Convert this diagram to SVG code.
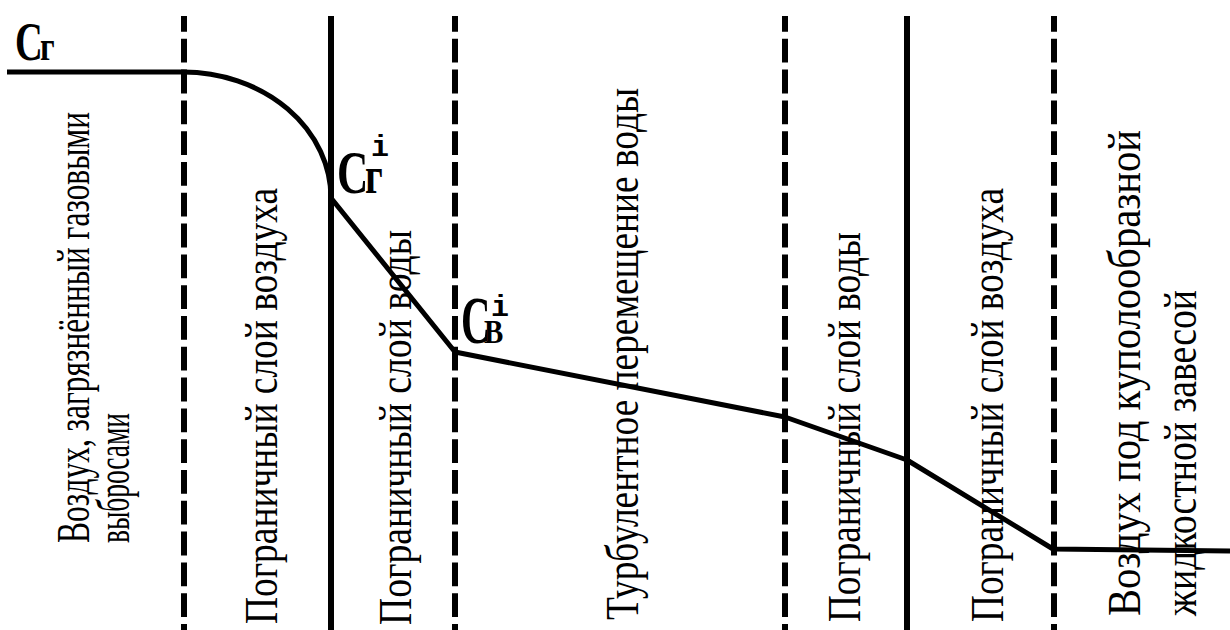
<svg xmlns="http://www.w3.org/2000/svg" width="1230" height="630" viewBox="0 0 1230 630">
<style>
.dash{stroke:#000;stroke-width:6;stroke-dasharray:23.8 7;stroke-dashoffset:8;fill:none}
.solid{stroke:#000;stroke-width:6;fill:none}
.curve{stroke:#000;stroke-width:5;fill:none;stroke-linejoin:round}
.vt{font-family:"Liberation Serif","Tinos","Noto Serif","DejaVu Serif","FreeSerif","Times New Roman",Times,serif;font-size:47px;fill:#000}
.lb{font-family:"Liberation Serif","Tinos","Noto Serif","DejaVu Serif","FreeSerif","Times New Roman",Times,serif;font-weight:bold;fill:#000}
.mi{font-family:"Liberation Mono","Courier New",monospace;font-weight:bold;fill:#000}
</style>
<rect width="1230" height="630" fill="#fff"/>
<g id="dividers">
<line class="dash" x1="184" y1="16" x2="184" y2="630"/>
<line class="solid" x1="331" y1="16" x2="331" y2="630"/>
<line class="dash" x1="455" y1="16" x2="455" y2="630"/>
<line class="dash" x1="785" y1="16" x2="785" y2="630"/>
<line class="solid" x1="907" y1="16" x2="907" y2="630"/>
<line class="dash" x1="1054" y1="16" x2="1054" y2="630"/>
</g>
<g id="connectors">
<path class="curve" d="M7,72 L183,72 A148,126 0 0 1 331,198 L455,352 L785,417 L907,460 L1053,549 L1230,551"/>
</g>
<g id="zone1"><text class="vt" transform="translate(89,543) rotate(-90)" textLength="431" lengthAdjust="spacingAndGlyphs">Воздух, загрязнённый газовыми</text>
<text class="vt" transform="translate(129,543) rotate(-90)" textLength="130" lengthAdjust="spacingAndGlyphs">выбросами</text></g>
<g id="zone2"><text class="vt" transform="translate(277,624) rotate(-90)" textLength="436" lengthAdjust="spacingAndGlyphs">Пограничный слой воздуха</text></g>
<g id="zone3"><text class="vt" transform="translate(411,625) rotate(-90)" textLength="395" lengthAdjust="spacingAndGlyphs">Пограничный слой воды</text></g>
<g id="zone4"><text class="vt" transform="translate(638,620) rotate(-90)" textLength="532" lengthAdjust="spacingAndGlyphs">Турбулентное перемещение воды</text></g>
<g id="zone5"><text class="vt" transform="translate(860,622) rotate(-90)" textLength="390" lengthAdjust="spacingAndGlyphs">Пограничный слой воды</text></g>
<g id="zone6"><text class="vt" transform="translate(1003,622) rotate(-90)" textLength="434" lengthAdjust="spacingAndGlyphs">Пограничный слой воздуха</text></g>
<g id="zone7"><text class="vt" transform="translate(1140,616) rotate(-90)" textLength="486" lengthAdjust="spacingAndGlyphs">Воздух под куполообразной</text>
<text class="vt" transform="translate(1196,616) rotate(-90)" textLength="326" lengthAdjust="spacingAndGlyphs">жидкостной завесой</text></g>
<g id="label-cg">
<text class="lb" transform="translate(15,60) scale(0.7,1)" font-size="55">C</text>
<text class="lb" transform="translate(40,60) scale(0.75,1)" font-size="43">г</text>
</g>
<g id="label-cgi">
<text class="lb" transform="translate(337,193) scale(0.7,1)" font-size="62">C</text>
<text class="lb" transform="translate(365,193) scale(0.75,1)" font-size="52">г</text>
<text class="mi" transform="translate(371,156)" font-size="30">i</text>
</g>
<g id="label-cvi">
<text class="lb" transform="translate(461,343) scale(0.6,1)" font-size="68">C</text>
<text class="lb" transform="translate(484,343) scale(0.85,1)" font-size="34">В</text>
<text class="mi" transform="translate(491,316)" font-size="30">i</text>
</g>
</svg>
